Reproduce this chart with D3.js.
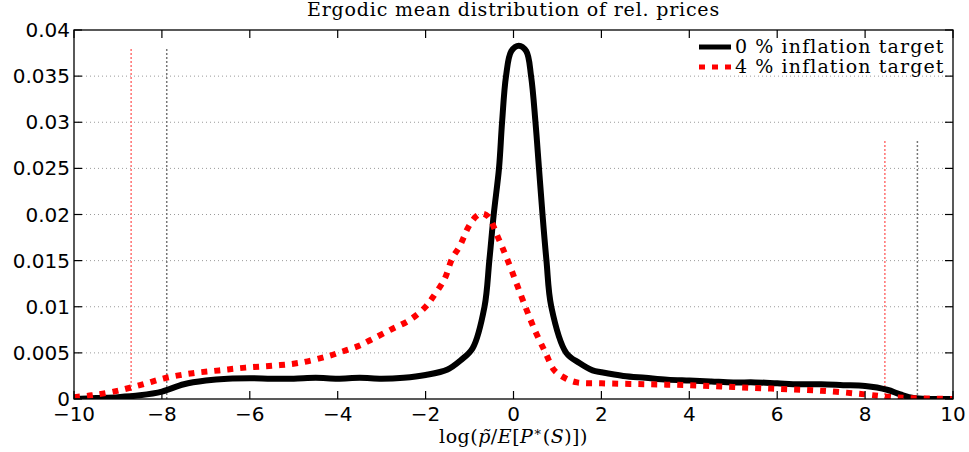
<!DOCTYPE html>
<html>
<head>
<meta charset="utf-8">
<script src="https://cdn.jsdelivr.net/npm/d3@7"></script>
<style>
  body { margin: 0; background: #fff; }
  svg { display: block; }
</style>
</head>
<body>
<div id="chart"></div>
<script>
const W = 969, H = 452;
const margin = {top: 30, right: 16, bottom: 53, left: 74};

// 0 % inflation target (black solid)
const x0 = [-10, -9.5, -9, -8.5, -8, -7.5, -7, -6.5, -6, -5.5, -5, -4.5, -4, -3.5, -3, -2.5, -2, -1.5, -1.2, -0.93,
  -0.66, -0.55, -0.45, -0.33, -0.26, -0.17, -0.05, 0.12, 0.29, 0.4, 0.5, 0.58, 0.66, 0.75, 0.86, 1.2, 1.5, 1.8,
  2, 2.5, 3, 3.5, 4, 4.5, 5, 5.5, 6, 6.5, 7, 7.5, 8, 8.5, 8.8, 9.1, 9.5, 10];
const y0 = [0, 0.0001, 0.0002, 0.0004, 0.0008, 0.0016, 0.002, 0.0022, 0.00225, 0.0022, 0.0022, 0.0023, 0.0022, 0.0023, 0.0022, 0.0023, 0.0026, 0.0032, 0.0042, 0.0055,
  0.01, 0.015, 0.02, 0.025, 0.03, 0.035, 0.0377, 0.0383, 0.0377, 0.035, 0.03, 0.025, 0.02, 0.015, 0.01, 0.005, 0.0039, 0.0031,
  0.0029, 0.0025, 0.0023, 0.0021, 0.002, 0.0019, 0.0018, 0.0018, 0.0017, 0.0016, 0.0016, 0.0015, 0.0014, 0.001, 0.0005, 0.0001, 0, 0];

// 4 % inflation target (red dotted)
const x4 = [-10, -9.6, -9.1, -8.5, -7.9, -7.3, -6.7, -6.1, -5.5, -4.9, -4.25, -3.8, -3.5, -3.25, -2.8, -2.35, -2.0, -1.84,
  -1.57, -1.39, -1.23, -1.02, -0.85, -0.73, -0.58, -0.36, -0.13, 0.27, 0.5, 0.73, 0.93, 1.2, 1.45, 2, 3, 4, 5, 6, 7, 8, 8.5, 9, 10];
const y4 = [0.0002, 0.0004, 0.0008, 0.0015, 0.0023, 0.0028, 0.0031, 0.0034, 0.0036, 0.0039, 0.0046, 0.0053, 0.0058, 0.0064, 0.0075, 0.0086, 0.01, 0.011,
  0.013, 0.0153, 0.0165, 0.0187, 0.0198, 0.0201, 0.0198, 0.0176, 0.015, 0.01, 0.0073, 0.005, 0.0031, 0.0022, 0.0018, 0.0017, 0.0016, 0.0015, 0.0013, 0.0011, 0.0009, 0.0005, 0.00025, 0.0001, 0];

// vertical dotted markers
const vlineX = [-8.7, -7.89, 8.45, 9.19];
const vlineTop = [0.038, 0.038, 0.028, 0.028];
const vlineSeries = ["4", "0", "4", "0"];

const xTicks = [-10, -8, -6, -4, -2, 0, 2, 4, 6, 8, 10];
const yTicks = [0, 0.005, 0.01, 0.015, 0.02, 0.025, 0.03, 0.035, 0.04];
const yTickLabels = ["0", "0.005", "0.01", "0.015", "0.02", "0.025", "0.03", "0.035", "0.04"];
const legendLabels = ["0 % inflation target", "4 % inflation target"];

const COLORS = { s0: '#000000', s4: '#ff0000', v0: '#777777', v4: '#ff7070', grid: '#9a9a9a' };

const svg = d3.select('#chart').append('svg')
  .attr('width', W)
  .attr('height', H)
  .attr('viewBox', [0, 0, W, H]);

const x = d3.scaleLinear().domain([-10, 10]).range([margin.left, W - margin.right]);
const y = d3.scaleLinear().domain([0, 0.04]).range([H - margin.bottom, margin.top]);

svg.append('defs').append('clipPath').attr('id', 'plotclip')
  .append('rect')
    .attr('x', x(-10)).attr('y', y(0.04))
    .attr('width', x(10) - x(-10)).attr('height', y(0) - y(0.04));

// horizontal grid
svg.append('g')
  .selectAll('line')
  .data(yTicks.slice(1, -1))
  .join('line')
    .attr('x1', x(-10)).attr('x2', x(10))
    .attr('y1', d => y(d)).attr('y2', d => y(d))
    .attr('stroke', COLORS.grid)
    .attr('stroke-width', 1)
    .attr('stroke-dasharray', '1,3');

// vertical markers
svg.append('g')
  .selectAll('line')
  .data(vlineX.map((v, i) => ({x: v, top: vlineTop[i], s: vlineSeries[i]})))
  .join('line')
    .attr('x1', d => x(d.x)).attr('x2', d => x(d.x))
    .attr('y1', y(0)).attr('y2', d => y(d.top))
    .attr('stroke', d => d.s === '4' ? COLORS.v4 : COLORS.v0)
    .attr('stroke-width', 1.5)
    .attr('stroke-dasharray', '2,2');

const line = d3.line()
  .x(d => x(d[0]))
  .y(d => y(d[1]))
  .curve(d3.curveCatmullRom.alpha(0.5));

const curves = svg.append('g').attr('clip-path', 'url(#plotclip)');

curves.append('path')
  .attr('d', line(x0.map((v, i) => [v, y0[i]])))
  .attr('fill', 'none')
  .attr('stroke', COLORS.s0)
  .attr('stroke-width', 6)
  .attr('stroke-linejoin', 'round');

curves.append('path')
  .attr('d', line(x4.map((v, i) => [v, y4[i]])))
  .attr('fill', 'none')
  .attr('stroke', COLORS.s4)
  .attr('stroke-width', 6)
  .attr('stroke-dasharray', '6,7');

// box
svg.append('rect')
  .attr('x', x(-10)).attr('y', y(0.04))
  .attr('width', x(10) - x(-10)).attr('height', y(0) - y(0.04))
  .attr('fill', 'none')
  .attr('stroke', '#000')
  .attr('stroke-width', 1.3);

// ticks (inward, both sides)
const tickLen = 8;
const tickG = svg.append('g').attr('stroke', '#000').attr('stroke-width', 1.2);
xTicks.forEach(t => {
  tickG.append('line').attr('x1', x(t)).attr('x2', x(t)).attr('y1', y(0)).attr('y2', y(0) - tickLen);
  tickG.append('line').attr('x1', x(t)).attr('x2', x(t)).attr('y1', y(0.04)).attr('y2', y(0.04) + tickLen);
});
yTicks.forEach(t => {
  tickG.append('line').attr('x1', x(-10)).attr('x2', x(-10) + tickLen).attr('y1', y(t)).attr('y2', y(t));
  tickG.append('line').attr('x1', x(10)).attr('x2', x(10) - tickLen).attr('y1', y(t)).attr('y2', y(t));
});

// tick labels
svg.append('g')
  .selectAll('text')
  .data(xTicks)
  .join('text')
    .attr('x', d => x(d))
    .attr('y', H - margin.bottom + 22)
    .attr('text-anchor', 'middle')
    .attr('font-family', 'DejaVu Sans, sans-serif')
    .attr('font-size', 20)
    .text(d => d3.format('d')(d));

svg.append('g')
  .selectAll('text')
  .data(yTicks)
  .join('text')
    .attr('x', margin.left - 4)
    .attr('y', d => y(d) + 7)
    .attr('text-anchor', 'end')
    .attr('font-family', 'DejaVu Sans, sans-serif')
    .attr('font-size', 20)
    .text((d, i) => yTickLabels[i]);

// title
svg.append('text')
  .attr('x', (x(-10) + x(10)) / 2)
  .attr('y', 16)
  .attr('text-anchor', 'middle')
  .attr('font-family', 'DejaVu Serif, serif')
  .attr('font-size', 19)
  .attr('letter-spacing', 0.8)
  .text('Ergodic mean distribution of rel. prices');

// x label
const xl = svg.append('text')
  .attr('x', (x(-10) + x(10)) / 2)
  .attr('y', 443)
  .attr('text-anchor', 'middle')
  .attr('font-family', 'DejaVu Serif, serif')
  .attr('font-size', 19)
  .attr('letter-spacing', 0.5);
xl.append('tspan').text('log(');
xl.append('tspan').attr('font-style', 'italic').text('p\u0303');
xl.append('tspan').text('/');
xl.append('tspan').attr('font-style', 'italic').text('E');
xl.append('tspan').text('[');
xl.append('tspan').attr('font-style', 'italic').text('P');
xl.append('tspan').attr('dy', -7).attr('font-size', 13).text('\u2217');
xl.append('tspan').attr('dy', 7).text('(');
xl.append('tspan').attr('font-style', 'italic').text('S');
xl.append('tspan').text(')])');

// legend
const legend = svg.append('g');
legendLabels.forEach((lab, i) => {
  const ly = 47 + i * 20;
  legend.append('line')
    .attr('x1', 699).attr('x2', 731)
    .attr('y1', ly).attr('y2', ly)
    .attr('stroke', i === 0 ? COLORS.s0 : COLORS.s4)
    .attr('stroke-width', 5)
    .attr('stroke-dasharray', i === 0 ? null : '6,7');
  legend.append('text')
    .attr('x', 735)
    .attr('y', ly + 6)
    .attr('font-family', 'DejaVu Serif, serif')
    .attr('font-size', 19)
    .attr('letter-spacing', 1.1)
    .text(lab);
});
</script>
</body>
</html>
